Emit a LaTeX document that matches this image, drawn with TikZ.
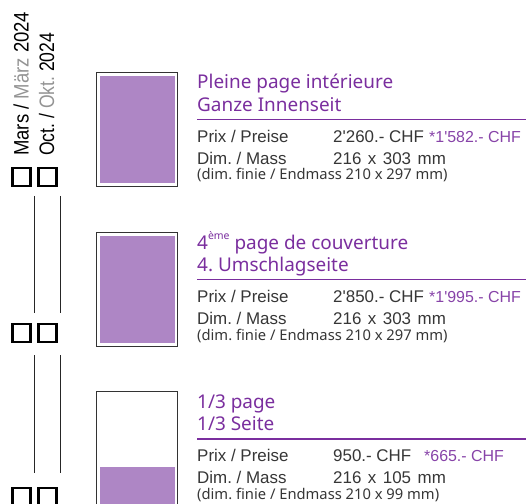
\documentclass[tikz,border=0pt]{standalone}
\usepackage{fontspec}
\setmainfont{Noto Sans}
\newfontfamily\condf{Liberation Sans}
\newfontfamily\vertf[FakeStretch=0.885]{Liberation Sans}
\newfontfamily\vertg[FakeStretch=0.84]{Liberation Sans}
\definecolor{lila}{HTML}{7A2E9E}
\definecolor{fillp}{HTML}{AE86C5}
\definecolor{txt}{HTML}{363636}
\frenchspacing
\newcommand{\wsp}{\hspace{6.5bp}}
\begin{document}
\begin{tikzpicture}[x=1bp,y=-1bp,
  title/.style={anchor=base west, inner sep=0, text=lila, font=\fontsize{19}{20}\selectfont},
  body/.style={anchor=base west, inner sep=0, text=txt, font=\condf\fontsize{17}{18}\selectfont},
  small/.style={anchor=base west, inner sep=0, text=txt, font=\fontsize{14.8}{15}\selectfont},
  star/.style={anchor=base west, inner sep=0, text=lila!90, font=\condf\fontsize{16}{17}\selectfont},
  vlabel/.style={anchor=base west, inner sep=0, rotate=90, text=black, font=\vertf\fontsize{21}{22}\selectfont},
  vlabelb/.style={vlabel, font=\vertg\fontsize{21}{22}\selectfont},
  thumb/.style={draw=black!80, line width=1.6, fill=white},
  pfill/.style={fill=fillp, draw=none},
  cbox/.style={draw=black, line width=2.6},
  wline/.style={draw=black!85, line width=0.9},
  rule/.style={draw=lila, line width=2}]
\useasboundingbox (0,0) rectangle (526,504);

% vertical labels
\node[vlabel] (mars) at (28.5,156) {Mars / \textcolor{black!42}{März} 2024};
\node[vlabelb] (oct) at (54,156) {Oct. / \textcolor{black!42}{Okt.} 2024};

% checkboxes and write lines
\draw[cbox] (12.5,168) rectangle (30.5,186);
\draw[cbox] (38.5,168) rectangle (56.5,186);
\draw[wline] (34.5,196) -- (34.5,313);
\draw[wline] (60,196) -- (60,313);
\draw[cbox] (12.5,324) rectangle (30.5,342);
\draw[cbox] (38.5,324) rectangle (56.5,342);
\draw[wline] (34.5,355) -- (34.5,473);
\draw[wline] (60,355) -- (60,473);
\draw[cbox] (12.5,488) rectangle (30.5,506);
\draw[cbox] (38.5,488) rectangle (56.5,506);

% thumbnails
\draw[thumb] (96.5,72.5) rectangle (177.5,186.5);
\fill[pfill] (100,76) rectangle (175,183);
\draw[thumb] (96.5,232.5) rectangle (177.5,346.5);
\fill[pfill] (100,236) rectangle (175,343);
\draw[thumb] (96.5,391.5) rectangle (177.5,510);
\fill[pfill] (100,467) rectangle (175,510);

% section 1
\node[title] (t1a) at (197,89) {Pleine page intérieure};
\node[title] (t1b) at (197,111.5) {Ganze Innenseit};
\draw[rule] (197,119.5) -- (526,119.5);
\node[body] (p1) at (197,142.3) {Prix / Preise};
\node[body] (v1) at (333,142.3) {2'260.- CHF};
\node[star] (s1) at (429,142.3) {*1'582.- CHF};
\node[body] (d1) at (197,164.3) {Dim. / Mass};
\node[body] (m1) at (333,164.3) {216\wsp x\wsp 303\wsp mm};
\node[small] (f1) at (197,180) {(dim. finie / Endmass 210 x 297 mm)};

% section 2
\node[title] (t2a) at (197,249) {4\raisebox{0.5em}{\fontsize{10.5}{11}\selectfont ème} page de couverture};
\node[title] (t2b) at (197,271.5) {4. Umschlagseite};
\draw[rule] (197,279.5) -- (526,279.5);
\node[body] (p2) at (197,302.3) {Prix / Preise};
\node[body] (v2) at (333,302.3) {2'850.- CHF};
\node[star] (s2) at (429,302.3) {*1'995.- CHF};
\node[body] (d2) at (197,324.3) {Dim. / Mass};
\node[body] (m2) at (333,324.3) {216\wsp x\wsp 303\wsp mm};
\node[small] (f2) at (197,340) {(dim. finie / Endmass 210 x 297 mm)};

% section 3
\node[title] (t3a) at (197,408) {1/3 page};
\node[title] (t3b) at (197,430.5) {1/3 Seite};
\draw[rule] (197,438.5) -- (526,438.5);
\node[body] (p3) at (197,461.3) {Prix / Preise};
\node[body] (v3) at (333,461.3) {950.- CHF};
\node[star] (s3) at (424,461.3) {*665.- CHF};
\node[body] (d3) at (197,483.3) {Dim. / Mass};
\node[body] (m3) at (333,483.3) {216\wsp x\wsp 105\wsp mm};
\node[small] (f3) at (197,499) {(dim. finie / Endmass 210 x 99 mm)};
\end{tikzpicture}
\end{document}
